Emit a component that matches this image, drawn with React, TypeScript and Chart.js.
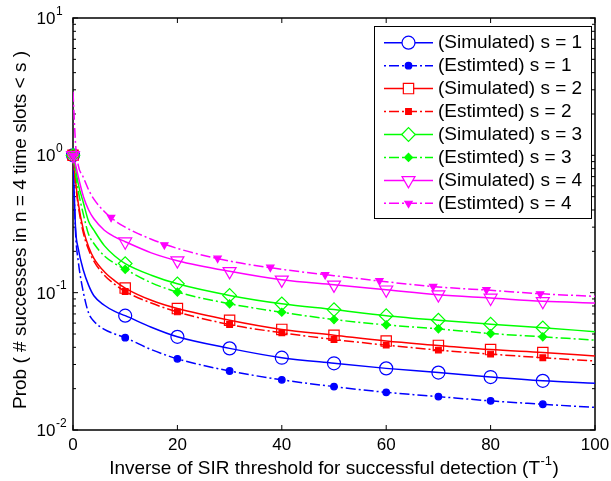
import React, { useEffect, useRef } from "react";
import { Chart, registerables } from "chart.js";
import { drawPoint } from "chart.js/helpers";

Chart.register(...registerables);

const FONT = "'Liberation Sans', Arial, Helvetica, sans-serif";

// ---------- data ----------
const X_CURVE = [0, 0.5, 1, 2, 3, 4, 6, 8, 10, 15, 20, 30, 40, 50, 60, 70, 80, 90, 100];

const SIM_1 = [1, 0.29, 0.21, 0.145, 0.113, 0.095, 0.081, 0.073, 0.068, 0.056, 0.0477, 0.0393, 0.0336, 0.0306, 0.0281, 0.0262, 0.0243, 0.0228, 0.0219];
const EST_1 = [1, 0.27, 0.17, 0.1, 0.071, 0.062, 0.054, 0.05, 0.047, 0.0385, 0.033, 0.0269, 0.0232, 0.0207, 0.0188, 0.0175, 0.0163, 0.0154, 0.0146];
const SIM_2 = [1, 0.65, 0.45, 0.285, 0.215, 0.178, 0.142, 0.122, 0.108, 0.088, 0.0766, 0.063, 0.054, 0.049, 0.0444, 0.0413, 0.0385, 0.0367, 0.0346];
const EST_2 = [1, 0.62, 0.43, 0.27, 0.205, 0.17, 0.134, 0.115, 0.102, 0.084, 0.0724, 0.0586, 0.051, 0.0456, 0.0415, 0.0382, 0.0357, 0.0336, 0.0318];
const SIM_3 = [1, 0.8, 0.62, 0.45, 0.33, 0.285, 0.22, 0.185, 0.163, 0.134, 0.116, 0.0955, 0.083, 0.0753, 0.068, 0.063, 0.059, 0.0555, 0.052];
const EST_3 = [1, 0.72, 0.55, 0.37, 0.265, 0.228, 0.185, 0.163, 0.148, 0.118, 0.101, 0.083, 0.072, 0.0637, 0.0583, 0.0545, 0.0504, 0.0477, 0.0451];
const SIM_4 = [1, 0.85, 0.7, 0.5, 0.4, 0.345, 0.285, 0.255, 0.235, 0.195, 0.171, 0.143, 0.124, 0.114, 0.105, 0.0967, 0.0915, 0.0865, 0.0842];
const EST_4 = [2.9, 1.2, 0.85, 0.69, 0.56, 0.48, 0.39, 0.335, 0.3, 0.245, 0.21, 0.17, 0.148, 0.133, 0.12, 0.11, 0.104, 0.098, 0.094];

const X_MARK = [0, 10, 20, 30, 40, 50, 60, 70, 80, 90];
const X_MARK_EST_4 = [0, 7.3, 17.5, 27.7, 37.8, 48.3, 58.7, 69, 79.2, 89.5];

const SIM_1_MARK = [1, 0.068, 0.0477, 0.0393, 0.0336, 0.0306, 0.0281, 0.0262, 0.0243, 0.0228];
const EST_1_MARK = [1, 0.047, 0.033, 0.0269, 0.0232, 0.0207, 0.0188, 0.0175, 0.0163, 0.0154];
const SIM_2_MARK = [1, 0.108, 0.0766, 0.063, 0.054, 0.049, 0.0444, 0.0413, 0.0385, 0.0367];
const EST_2_MARK = [1, 0.102, 0.0724, 0.0586, 0.051, 0.0456, 0.0415, 0.0382, 0.0357, 0.0336];
const SIM_3_MARK = [1, 0.163, 0.116, 0.0955, 0.083, 0.0753, 0.068, 0.063, 0.059, 0.0555];
const EST_3_MARK = [1, 0.148, 0.101, 0.083, 0.072, 0.0637, 0.0583, 0.0545, 0.0504, 0.0477];
const SIM_4_MARK = [1, 0.235, 0.171, 0.143, 0.124, 0.114, 0.105, 0.0967, 0.0915, 0.0865];
const EST_4_MARK = [1, 0.353, 0.223, 0.178, 0.153, 0.135, 0.122, 0.111, 0.105, 0.098];

const X_TICKS = [0, 20, 40, 60, 80, 100];
const Y_TICK_EXPONENTS = [-2, -1, 0, 1];
const Y_MINOR_MULTIPLIERS = [2, 3, 4, 5, 6, 7, 8, 9];

const X_LABEL_MAIN = "Inverse of SIR threshold for successful detection (T";
const X_LABEL_SUP = "-1";
const X_LABEL_END = ")";
const Y_LABEL = "Prob ( # successes in n = 4 time slots < s )";

// ---------- styles ----------
const DASH_DOT = [10, 3, 2, 3];
const BLUE = "#0000ff";
const RED = "#ff0000";
const GREEN = "#00ff00";
const MAGENTA = "#ff00ff";

const SERIES = [
  { label: "(Simulated) s = 1", color: BLUE, curve: SIM_1, markX: X_MARK, markY: SIM_1_MARK, pointStyle: "circle", radius: 6.5, filled: false, rotation: 0, dash: [] as number[] },
  { label: "(Estimted) s = 1", color: BLUE, curve: EST_1, markX: X_MARK, markY: EST_1_MARK, pointStyle: "circle", radius: 3.3, filled: true, rotation: 0, dash: DASH_DOT },
  { label: "(Simulated) s = 2", color: RED, curve: SIM_2, markX: X_MARK, markY: SIM_2_MARK, pointStyle: "rect", radius: 7.3, filled: false, rotation: 0, dash: [] as number[] },
  { label: "(Estimted) s = 2", color: RED, curve: EST_2, markX: X_MARK, markY: EST_2_MARK, pointStyle: "rect", radius: 4, filled: true, rotation: 0, dash: DASH_DOT },
  { label: "(Simulated) s = 3", color: GREEN, curve: SIM_3, markX: X_MARK, markY: SIM_3_MARK, pointStyle: "rectRot", radius: 6.8, filled: false, rotation: 0, dash: [] as number[] },
  { label: "(Estimted) s = 3", color: GREEN, curve: EST_3, markX: X_MARK, markY: EST_3_MARK, pointStyle: "rectRot", radius: 4, filled: true, rotation: 0, dash: DASH_DOT },
  { label: "(Simulated) s = 4", color: MAGENTA, curve: SIM_4, markX: X_MARK, markY: SIM_4_MARK, pointStyle: "triangle", radius: 7.5, filled: false, rotation: 180, dash: [] as number[] },
  { label: "(Estimted) s = 4", color: MAGENTA, curve: EST_4, markX: X_MARK_EST_4, markY: EST_4_MARK, pointStyle: "triangle", radius: 4.2, filled: true, rotation: 180, dash: DASH_DOT },
];

const CANVAS_W = 611;
const CANVAS_H = 481;
const PLOT = { left: 73, right: 595, top: 18, bottom: 430 };

const LEGEND = { left: 374, top: 26, right: 591, bottom: 218, firstRow: 42.7, rowStep: 22.95, lineFrom: 384, lineTo: 433, marker: 408.5, textX: 438 };

const matlabPlugin = {
  id: "matlabDecor",
  beforeDatasetsDraw(chart: any) {
    const { ctx, chartArea: a, scales } = chart;
    const xs = scales.x;
    const ys = scales.y;
    ctx.save();
    ctx.strokeStyle = "#000";
    ctx.lineWidth = 1;
    ctx.beginPath();
    for (const v of X_TICKS) {
      const px = xs.getPixelForValue(v);
      ctx.moveTo(px, a.bottom);
      ctx.lineTo(px, a.bottom - 5);
      ctx.moveTo(px, a.top);
      ctx.lineTo(px, a.top + 5);
    }
    Y_TICK_EXPONENTS.forEach((e, k) => {
      const py = ys.getPixelForValue(Math.pow(10, e));
      ctx.moveTo(a.left, py);
      ctx.lineTo(a.left + 5, py);
      ctx.moveTo(a.right, py);
      ctx.lineTo(a.right - 5, py);
      if (k < Y_TICK_EXPONENTS.length - 1) {
        for (const m of Y_MINOR_MULTIPLIERS) {
          const pm = ys.getPixelForValue(m * Math.pow(10, e));
          ctx.moveTo(a.left, pm);
          ctx.lineTo(a.left + 3, pm);
          ctx.moveTo(a.right, pm);
          ctx.lineTo(a.right - 3, pm);
        }
      }
    });
    ctx.stroke();
    ctx.lineWidth = 1.5;
    ctx.strokeRect(a.left, a.top, a.right - a.left, a.bottom - a.top);
    ctx.restore();
  },
  afterDraw(chart: any) {
    const { ctx, chartArea: a, scales } = chart;
    const xs = scales.x;
    const ys = scales.y;
    ctx.save();
    ctx.fillStyle = "#000";

    // x tick labels
    ctx.font = `17px ${FONT}`;
    ctx.textAlign = "center";
    ctx.textBaseline = "alphabetic";
    for (const v of X_TICKS) {
      ctx.fillText(String(v), xs.getPixelForValue(v), 450);
    }

    // y tick labels 10^e
    for (const e of Y_TICK_EXPONENTS) {
      const py = ys.getPixelForValue(Math.pow(10, e));
      ctx.font = `17px ${FONT}`;
      ctx.textAlign = "left";
      ctx.textBaseline = "alphabetic";
      ctx.fillText("10", 36.5, py + 6);
      const w = ctx.measureText("10").width;
      ctx.font = `12px ${FONT}`;
      ctx.fillText(String(e), 36.5 + w + 0.5, py - 3.5);
    }

    // x title with superscript
    ctx.font = `19px ${FONT}`;
    const wMain = ctx.measureText(X_LABEL_MAIN).width;
    const wEnd = ctx.measureText(X_LABEL_END).width;
    ctx.font = `13px ${FONT}`;
    const wSup = ctx.measureText(X_LABEL_SUP).width;
    const total = wMain + wSup + wEnd + 1;
    const cx = (a.left + a.right) / 2;
    let x0 = cx - total / 2;
    ctx.textAlign = "left";
    ctx.font = `19px ${FONT}`;
    ctx.fillText(X_LABEL_MAIN, x0, 474);
    ctx.font = `13px ${FONT}`;
    ctx.fillText(X_LABEL_SUP, x0 + wMain + 0.5, 465);
    ctx.font = `19px ${FONT}`;
    ctx.fillText(X_LABEL_END, x0 + wMain + wSup + 1, 474);

    // y title
    ctx.save();
    ctx.translate(26, 230);
    ctx.rotate(-Math.PI / 2);
    ctx.font = `19px ${FONT}`;
    ctx.textAlign = "center";
    ctx.textBaseline = "alphabetic";
    ctx.fillText(Y_LABEL, 0, 0);
    ctx.restore();

    // legend
    const L = LEGEND;
    ctx.fillStyle = "#fff";
    ctx.fillRect(L.left, L.top, L.right - L.left, L.bottom - L.top);
    ctx.strokeStyle = "#000";
    ctx.lineWidth = 1;
    ctx.strokeRect(L.left + 0.5, L.top + 0.5, L.right - L.left, L.bottom - L.top);
    SERIES.forEach((s, i) => {
      const y = L.firstRow + i * L.rowStep;
      ctx.save();
      ctx.strokeStyle = s.color;
      ctx.lineWidth = 1.5;
      ctx.setLineDash(s.dash);
      if (s.dash.length) ctx.lineDashOffset = 13;
      ctx.beginPath();
      ctx.moveTo(L.lineFrom, y);
      ctx.lineTo(L.lineTo, y);
      ctx.stroke();
      ctx.setLineDash([]);
      ctx.fillStyle = s.filled ? s.color : "#fff";
      ctx.lineWidth = 1.2;
      drawPoint(ctx, { pointStyle: s.pointStyle as any, rotation: s.rotation, radius: s.radius, borderWidth: 1.2 }, L.marker, y);
      ctx.restore();
      ctx.fillStyle = "#000";
      ctx.font = `19px ${FONT}`;
      ctx.textAlign = "left";
      ctx.textBaseline = "middle";
      ctx.fillText(s.label, L.textX, y);
    });
    ctx.restore();
  },
};

export default function App() {
  const ref = useRef<HTMLCanvasElement>(null);
  useEffect(() => {
    const datasets: any[] = [];
    SERIES.forEach((s, i) => {
      datasets.push({
        label: s.label,
        data: X_CURVE.map((x, j) => ({ x, y: s.curve[j] })),
        borderColor: s.color,
        borderWidth: 1.5,
        borderDash: s.dash,
        pointRadius: 0,
        pointHoverRadius: 0,
        fill: false,
        cubicInterpolationMode: "monotone",
        order: 100 - 2 * i,
      });
      datasets.push({
        label: s.label + " markers",
        data: s.markX.map((x, j) => ({ x, y: s.markY[j] })),
        showLine: false,
        pointStyle: s.pointStyle,
        pointRadius: s.radius,
        pointHoverRadius: s.radius,
        pointBorderColor: s.color,
        pointBackgroundColor: s.filled ? s.color : "rgba(0,0,0,0)",
        pointBorderWidth: 1.2,
        pointRotation: s.rotation,
        clip: false,
        order: 99 - 2 * i,
      });
    });
    const chart = new Chart(ref.current!, {
      type: "line",
      data: { datasets },
      options: {
        animation: false,
        responsive: false,
        devicePixelRatio: 1,
        events: [],
        layout: {
          autoPadding: false,
          padding: { left: 0, top: PLOT.top, right: CANVAS_W - PLOT.right, bottom: 0 },
        },
        plugins: { legend: { display: false }, tooltip: { enabled: false }, title: { display: false } },
        scales: {
          x: {
            type: "linear",
            min: 0,
            max: 100,
            grid: { display: false },
            border: { display: false },
            ticks: { display: false },
            afterFit: (s: any) => { s.height = CANVAS_H - PLOT.bottom; },
          },
          y: {
            type: "logarithmic",
            min: 0.01,
            max: 10,
            grid: { display: false },
            border: { display: false },
            ticks: { display: false },
            afterFit: (s: any) => { s.width = PLOT.left; },
          },
        },
      } as any,
      plugins: [matlabPlugin],
    });
    return () => chart.destroy();
  }, []);
  return (
    <div style={{ position: "absolute", left: 0, top: 0, width: CANVAS_W, height: CANVAS_H, background: "#fff" }}>
      <canvas ref={ref} width={CANVAS_W} height={CANVAS_H} style={{ display: "block" }} />
    </div>
  );
}
